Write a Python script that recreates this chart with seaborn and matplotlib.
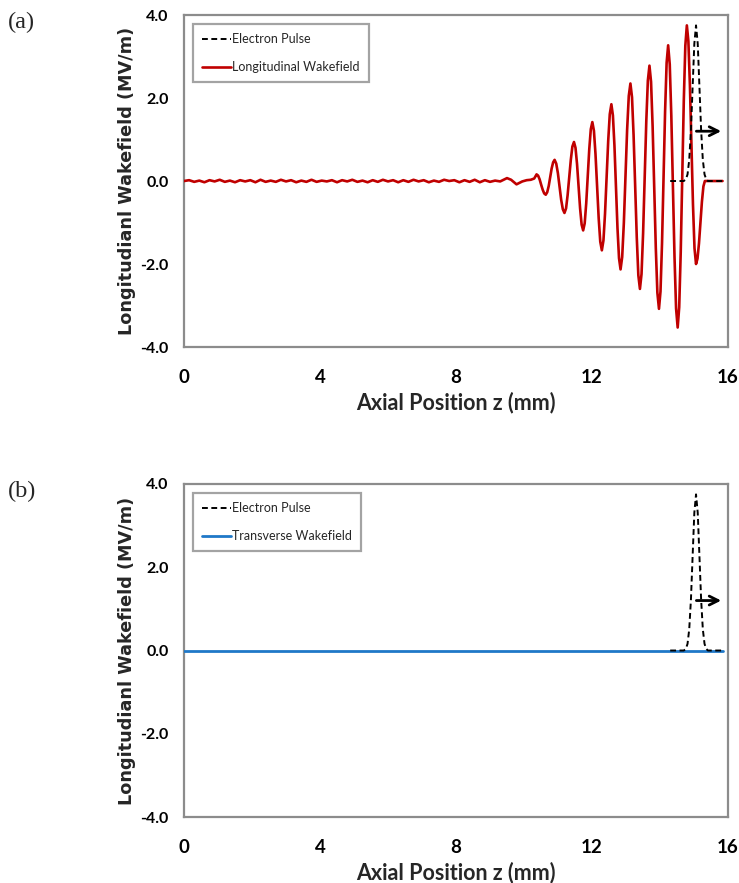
import matplotlib
matplotlib.use("Agg")
import matplotlib.pyplot as plt
import seaborn as sns
import pandas as pd

# ---- data -------------------------------------------------------------
# Longitudinal wakefield (MV/m) versus axial position z (mm)
wake_z = [
    0.00, 0.15, 0.30, 0.45, 0.60, 0.75, 0.90, 1.05, 1.20, 1.35, 1.50, 1.65,
    1.80, 1.95, 2.10, 2.25, 2.40, 2.55, 2.70, 2.85, 3.00, 3.15, 3.30, 3.45,
    3.60, 3.75, 3.90, 4.05, 4.20, 4.35, 4.50, 4.65, 4.80, 4.95, 5.10, 5.25,
    5.40, 5.55, 5.70, 5.85, 6.00, 6.15, 6.30, 6.45, 6.60, 6.75, 6.90, 7.05,
    7.20, 7.35, 7.50, 7.65, 7.80, 7.95, 8.10, 8.25, 8.40, 8.55, 8.70, 8.85,
    9.00, 9.15, 9.30, 9.50, 9.62, 9.78, 9.95, 10.08, 10.20, 10.30, 10.37,
    10.415, 10.46, 10.505, 10.55, 10.595, 10.64,
    10.683, 10.727, 10.77, 10.813, 10.857, 10.90,
    10.948, 10.997, 11.045, 11.093, 11.142, 11.19,
    11.237, 11.283, 11.33, 11.377, 11.423, 11.47,
    11.515, 11.56, 11.605, 11.65, 11.695, 11.74,
    11.785, 11.83, 11.875, 11.92, 11.965, 12.01,
    12.057, 12.103, 12.15, 12.197, 12.243, 12.29,
    12.337, 12.383, 12.43, 12.477, 12.523, 12.57,
    12.615, 12.66, 12.705, 12.75, 12.795, 12.84,
    12.888, 12.937, 12.985, 13.033, 13.082, 13.13,
    13.177, 13.223, 13.27, 13.317, 13.363, 13.41,
    13.457, 13.503, 13.55, 13.597, 13.643, 13.69,
    13.737, 13.783, 13.83, 13.877, 13.923, 13.97,
    14.015, 14.06, 14.105, 14.15, 14.195, 14.24,
    14.287, 14.333, 14.38, 14.427, 14.473, 14.52,
    14.565, 14.61, 14.655, 14.70, 14.745, 14.79,
    14.835, 14.88, 14.925, 14.97, 15.015, 15.06,
    15.103, 15.147, 15.19, 15.233, 15.277, 15.32,
    15.50, 15.70, 15.84,
]
wake_ez = [
    0.00, 0.02, -0.02, 0.01, -0.03, 0.02, -0.01, 0.03, -0.02, 0.01, -0.03, 0.02,
    -0.01, 0.02, -0.03, 0.03, -0.02, 0.01, -0.02, 0.03, -0.01, 0.02, -0.03, 0.01,
    -0.02, 0.03, -0.02, 0.01, -0.01, 0.02, -0.03, 0.02, -0.01, 0.03, -0.02, 0.01,
    -0.03, 0.02, -0.02, 0.03, -0.01, 0.02, -0.03, 0.02, -0.02, 0.03, -0.01, 0.02,
    -0.03, 0.01, -0.02, 0.03, 0.00, 0.02, -0.03, 0.02, -0.02, 0.03, -0.03, 0.02,
    -0.02, 0.01, -0.01, 0.07, 0.03, -0.08, -0.01, 0.02, 0.03, 0.06, 0.16,
    0.13, 0.04, -0.09, -0.21, -0.30, -0.33,
    -0.27, -0.12, 0.09, 0.30, 0.45, 0.51,
    0.42, 0.19, -0.13, -0.45, -0.68, -0.77,
    -0.66, -0.34, 0.09, 0.51, 0.83, 0.94,
    0.80, 0.41, -0.13, -0.66, -1.05, -1.19,
    -1.02, -0.54, 0.12, 0.77, 1.25, 1.42,
    1.21, 0.65, -0.13, -0.90, -1.46, -1.67,
    -1.43, -0.79, 0.09, 0.97, 1.61, 1.85,
    1.58, 0.86, -0.14, -1.14, -1.86, -2.13,
    -1.83, -1.01, 0.11, 1.23, 2.05, 2.35,
    2.02, 1.11, -0.13, -1.36, -2.27, -2.60,
    -2.24, -1.26, 0.09, 1.44, 2.42, 2.78,
    2.39, 1.32, -0.15, -1.62, -2.69, -3.08,
    -2.66, -1.49, 0.10, 1.68, 2.85, 3.27,
    2.81, 1.57, -0.13, -1.83, -3.07, -3.53,
    -3.04, -1.71, 0.11, 1.93, 3.26, 3.75,
    3.37, 2.31, 0.88, -0.56, -1.62, -2.00,
    -1.87, -1.50, -1.00, -0.50, -0.13, 0.00,
    0.00, 0.00, 0.00,
]

# Electron bunch profile (same arbitrary scale as the field axis)
pulse_z = [14.30, 14.70, 14.76, 14.81, 14.86, 14.91, 14.96, 15.01, 15.06,
           15.11, 15.16, 15.21, 15.26, 15.31, 15.36, 15.41, 15.84]
pulse_v = [0.00, 0.00, 0.04, 0.16, 0.51, 1.22, 2.27, 3.31, 3.75,
           3.31, 2.27, 1.22, 0.51, 0.16, 0.04, 0.00, 0.00]

# Transverse wakefield stays at zero along the whole structure
trans_z = [0.00, 15.84]
trans_ex = [0.00, 0.00]

x_ticks = [0, 4, 8, 12, 16]
y_ticks = [-4.0, -2.0, 0.0, 2.0, 4.0]

# ---- style ------------------------------------------------------------
sns.set_style("white")
NARROW = ["Lato", "DejaVu Sans"]
plt.rcParams["font.family"] = NARROW

GRAY = "#8c8c8c"
RED = "#c00000"
BLUE = "#1f78c8"

fig = plt.figure(figsize=(7.39, 8.83), dpi=100)

ax_a = fig.add_axes([0.2490, 0.6070, 0.7361, 0.3760])
ax_b = fig.add_axes([0.2490, 0.0747, 0.7361, 0.3772])

wake_df = pd.DataFrame({"z": wake_z, "Ez": wake_ez})
pulse_df = pd.DataFrame({"z": pulse_z, "v": pulse_v})
trans_df = pd.DataFrame({"z": trans_z, "Ex": trans_ex})


def draw_pulse(ax):
    sns.lineplot(data=pulse_df, x="z", y="v", ax=ax, color="black",
                 lw=1.4, estimator=None, sort=False,
                 label="Electron Pulse", zorder=4)
    ax.lines[-1].set_dashes([3, 1.8])
    ax.annotate("", xy=(15.80, 1.2), xytext=(15.07, 1.2),
                arrowprops=dict(arrowstyle="->", color="black", lw=2.0,
                                mutation_scale=16, shrinkA=0, shrinkB=0),
                zorder=5)


def style_axes(ax):
    ax.set_xlim(0, 16)
    ax.set_ylim(-4, 4)
    ax.set_xticks(x_ticks)
    ax.set_yticks(y_ticks)
    ax.set_xticklabels([str(t) for t in x_ticks], fontweight="bold",
                       fontsize=13.5, family=NARROW)
    ax.set_yticklabels([f"{t:.1f}" for t in y_ticks], fontweight="bold",
                       fontsize=11.5, family=NARROW)
    for s in ax.spines.values():
        s.set_color(GRAY)
        s.set_linewidth(1.6)
    ax.tick_params(axis="both", direction="out", length=5, width=1.4,
                   color=GRAY, labelcolor="black")
    ax.tick_params(axis="y", pad=6)
    ax.tick_params(axis="x", pad=11)
    ax.set_xlabel("Axial Position z (mm)", fontsize=15.5, fontweight="bold",
                  family=NARROW, labelpad=4)
    ax.set_ylabel("Longitudianl Wakefield (MV/m)", fontsize=12.7,
                  fontweight="bold", family="DejaVu Sans")
    ax.yaxis.set_label_coords(-0.088, 0.5)
    ax.set_facecolor("white")


def add_legend(ax):
    h, l = ax.get_legend_handles_labels()
    if ax.legend_ is not None:
        ax.legend_.remove()
    leg = ax.legend([h[1], h[0]], [l[1], l[0]], loc="upper left",
                    bbox_to_anchor=(0.0165, 0.973), borderaxespad=0,
                    frameon=True, fancybox=False,
                    prop={"family": NARROW, "size": 9},
                    handlelength=2.3, handletextpad=0.05, labelspacing=1.25,
                    borderpad=0.75)
    leg.get_frame().set_edgecolor(GRAY)
    leg.get_frame().set_linewidth(1.6)


# (a) longitudinal wakefield
sns.lineplot(data=wake_df, x="z", y="Ez", ax=ax_a, color=RED, lw=1.9,
             estimator=None, sort=False, label="Longitudinal Wakefield",
             zorder=3)
draw_pulse(ax_a)
style_axes(ax_a)
add_legend(ax_a)

# (b) transverse wakefield
sns.lineplot(data=trans_df, x="z", y="Ex", ax=ax_b, color=BLUE, lw=2.0,
             estimator=None, sort=False, label="Transverse Wakefield",
             zorder=3)
draw_pulse(ax_b)
style_axes(ax_b)
add_legend(ax_b)

fig.text(0.010, 0.975, "(a)", fontsize=17.5, family="Liberation Serif",
         ha="left", va="center")
fig.text(0.010, 0.443, "(b)", fontsize=17.5, family="Liberation Serif",
         ha="left", va="center")

fig.savefig("out.png", dpi=100)
